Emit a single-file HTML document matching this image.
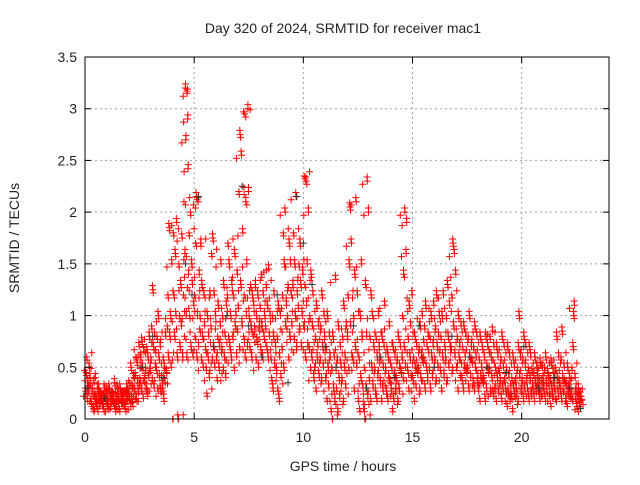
<!DOCTYPE html>
<html><head><meta charset="utf-8"><style>
body{margin:0;background:#fff}
svg text{font-family:"Liberation Sans",sans-serif;font-size:14px;fill:#222}
</style></head><body>
<svg id="c" width="640" height="480">
<rect width="640" height="480" fill="#fff"/>
<g id="grid"></g><g id="pts"></g><g id="axes"></g>
</svg>
<script>
const xTicks=[0,5,10,15,20];
const yTicks=[0,0.5,1,1.5,2,2.5,3,3.5];
const yTickLabels=["0","0.5","1","1.5","2","2.5","3","3.5"];
const binHours=0.25;
const redBins=[
[0.3,0.45,0.6,0.2,0.35,0.25,0.5,0.4],[0.2,0.15,0.3,0.25,0.1,0.35,0.2,0.4],[0.15,0.2,0.1,0.25,0.3,0.12,0.18,0.22],[0.2,0.15,0.25,0.1,0.3,0.18,0.2,0.28],
[0.15,0.2,0.12,0.3,0.25,0.1,0.18,0.22],[0.2,0.25,0.15,0.35,0.1,0.22,0.18,0.3],[0.18,0.22,0.1,0.3,0.25,0.15,0.2,0.12],[0.2,0.15,0.28,0.1,0.22,0.3,0.18,0.25],
[0.25,0.35,0.15,0.5,0.2,0.3,0.12,0.4],[0.3,0.45,0.6,0.2,0.55,0.35,0.25,0.7],[0.4,0.6,0.3,0.75,0.5,0.2,0.65,0.35],[0.5,0.3,0.7,0.25,0.6,0.4,0.8,0.45],
[0.6,0.9,0.4,1.25,0.7,0.3,0.8,0.5],[0.5,0.8,0.3,1.0,0.6,0.4,0.7,0.25],[0.4,0.3,0.6,0.2,0.5,0.35,0.8,0.45],[0.9,1.2,0.6,1.85,0.8,1.0,0.5,1.5],
[0,1.8,1.2,0.8,1.6,1.0,1.9,0.6],[0,1.5,1.0,0.7,1.3,0.9,1.75,0.6],[1.2,2.1,0.8,1.6,3.2,2.7,1.0,0.6,3.15,2.9,2.42,1.4],[1.8,1.0,2.0,0.7,1.5,1.3,0.6,1.1],
[1.2,0.8,1.7,2.15,0.6,1.0,2.1,0.7,1.4],[1.0,1.7,0.6,1.3,0.8,0.5,1.2,0.9],[0.7,0.5,0.25,1.0,0.6,0.8,0.4,1.2],[0.9,1.6,0.6,1.75,0.7,1.2,0.5,1.0],
[0.6,0.4,0.8,1.1,0.5,0.7,0.9,1.5],[0.7,1.0,0.5,1.3,0.6,0.8,0.4,1.1],[1.2,1.7,0.8,1.5,0.7,1.0,0.6,1.3],[0.8,1.2,0.5,1.6,0.9,1.0,0.6,1.4],
[1.1,2.2,0.7,2.75,1.3,2.55,0.9,1.8],[0.8,1.2,2.95,0.6,2.1,1.0,1.5,0.7,3.0,2.2],[1.0,0.7,1.3,0.9,0.6,1.2,0.8,1.1],[0.9,1.3,0.6,1.0,0.75,1.2,0.5,0.85],
[1.1,0.7,1.4,0.9,0.6,1.2,0.8,1.0],[0.9,1.3,0.7,1.1,0.6,1.45,0.8,1.0],[0.6,0.4,1.0,0.3,0.8,1.2,0.5,0.7],[0.5,0.8,0.3,1.1,0.2,0.6,1.0,0.4],
[0.7,1.2,1.8,0.5,1.5,2.0,0.9,1.1],[1.0,1.3,0.6,1.7,0.8,1.5,1.2,0.9],[1.3,1.8,0.8,1.5,1.0,2.15,0.7,1.2],[1.1,1.5,0.9,1.7,1.3,0.7,1.0,1.4],
[0.9,2.35,1.3,0.6,2.3,1.1,1.5,0.7,2.0],[0.7,1.0,0.5,1.4,0.6,0.9,1.2,0.4],[0.5,0.8,0.3,1.1,0.6,0.7,0.9,0.4],[0.6,0.9,0.4,1.2,0.7,0.5,1.0,0.8],
[0.4,0.7,0.2,1.0,0.5,0.3,0.8,0.6],[0.1,0.5,0.0,0.8,0.3,0.6,0.2,1.35],[0.3,0.6,0.1,0.9,0.4,0.2,0.7,0.5],[0.4,0.8,0.2,1.1,0.5,0.6,0.3,0.9],
[0.8,1.2,0.5,1.5,2.05,0.9,1.7,0.6],[0.6,1.0,0.3,1.4,0.7,2.1,0.5,1.2],[0.2,0.6,0.1,1.0,0.4,1.5,0.8,0.3],[0.1,0.5,0.0,1.3,0.3,0.8,2.3,0.2,2.0],
[0.4,0.8,0.2,1.2,0.5,1.0,0.3,0.7],[0.5,0.3,0.8,0.2,0.6,0.4,1.0,0.7],[0.4,0.6,0.2,0.8,0.3,0.5,0.7,1.1],[0.5,0.3,0.7,0.2,0.6,0.4,0.9,0.35],
[0.3,0.5,0.1,0.7,0.2,0.4,0.6,0.25],[0.4,0.6,0.2,0.8,0.3,0.5,0.7,0.45],[0.6,1.0,0.4,1.4,0.7,2.0,0.5,1.6,1.9],[0.5,0.8,0.3,1.1,0.6,0.9,0.4,1.2],
[0.4,0.6,0.2,0.8,0.5,0.3,0.7,0.45],[0.5,0.7,0.3,0.9,0.4,0.6,1.0,0.55],[0.6,0.9,0.3,1.1,0.5,0.7,0.4,0.8],[0.5,0.8,0.3,1.0,0.6,0.4,0.7,1.1],
[0.6,0.9,0.4,1.2,0.7,0.5,0.8,1.0],[0.5,0.8,0.3,1.0,0.6,1.2,0.4,0.7],[0.6,1.0,0.4,1.3,0.8,0.5,1.1,0.7],[0.7,1.2,0.5,1.7,0.9,1.6,0.6,1.4],
[0.5,0.8,0.3,1.0,0.6,0.7,0.4,0.9],[0.4,0.7,0.3,0.9,0.5,0.6,0.8,0.45],[0.5,0.8,0.3,1.0,0.6,0.4,0.7,0.55],[0.4,0.7,0.3,0.9,0.5,0.6,0.8,0.35],
[0.3,0.6,0.2,0.8,0.4,0.5,0.7,0.35],[0.4,0.6,0.2,0.8,0.3,0.5,0.7,0.45],[0.5,0.8,0.3,0.6,0.4,0.85,0.25,0.7],[0.3,0.5,0.2,0.7,0.4,0.6,0.25,0.45],
[0.4,0.6,0.2,0.8,0.3,0.5,0.7,0.35],[0.3,0.5,0.15,0.7,0.25,0.4,0.6,0.2],[0.25,0.4,0.1,0.6,0.3,0.5,0.2,0.35],[0.3,0.5,0.2,0.7,1.0,0.4,0.6,0.25],
[0.4,0.6,0.2,0.8,0.3,0.5,0.7,0.35],[0.3,0.5,0.2,0.7,0.4,0.6,0.25,0.45],[0.3,0.45,0.2,0.6,0.35,0.25,0.5,0.4],[0.3,0.4,0.2,0.55,0.25,0.35,0.5,0.3],
[0.3,0.5,0.2,0.6,0.35,0.25,0.45,0.4],[0.25,0.4,0.15,0.55,0.3,0.2,0.45,0.35],[0.3,0.5,0.2,0.8,0.4,0.25,0.6,0.35],[0.3,0.6,0.2,0.85,0.4,0.25,0.5,0.35],
[0.2,0.35,0.15,0.5,0.25,0.3,0.4,0.2],[0.3,0.5,0.2,0.7,1.0,1.1,0.4,0.25],[0.15,0.25,0.1,0.3,0.2,0.12,0.22,0.18]
];
const blackTimes=[0.1,0.9,2.6,3.1,3.6,4.6,4.9,5.2,5.9,6.5,7.2,7.5,8.1,8.8,9.3,9.7,10.0,10.4,11.0,11.5,12.3,12.9,13.5,14.2,15.3,16.0,16.8,17.6,18.4,19.3,20.1,20.8,21.5,22.2,22.7];
const blackValues=[0.3,0.2,0.5,0.8,0.4,1.5,1.2,2.15,0.7,1.0,2.25,0.9,0.6,1.2,0.35,2.15,1.7,1.3,0.7,0.5,0.9,0.3,0.6,0.4,0.9,0.5,0.8,0.6,0.5,0.45,0.7,0.3,0.4,0.3,0.1];

const L=85,R=609,T=57,B=419,X0=0,X1=24,Y0=0,Y1=3.5;
const xs=v=>L+(v-X0)/(X1-X0)*(R-L);
const ys=v=>B-(v-Y0)/(Y1-Y0)*(B-T);
const NS="http://www.w3.org/2000/svg";
function mk(tag,at,parent){const e=document.createElementNS(NS,tag);for(const k in at)e.setAttribute(k,at[k]);parent.appendChild(e);return e;}
const grid=document.getElementById('grid'),pts=document.getElementById('pts'),axes=document.getElementById('axes');
xTicks.forEach((t,i)=>{
 if(t>X0){const g=mk('line',{x1:xs(t),x2:xs(t),y1:T,y2:B,stroke:'#a0a0a0','stroke-dasharray':'2,3'},grid);
 
 }
 mk('line',{x1:xs(t),x2:xs(t),y1:B,y2:B-6,stroke:'#000'},axes);
 mk('line',{x1:xs(t),x2:xs(t),y1:T,y2:T+6,stroke:'#000'},axes);
 const tx=mk('text',{x:xs(t),y:B+23,'text-anchor':'middle'},axes);tx.textContent=String(t);
 
 
});
yTicks.forEach((t,i)=>{
 if(t>Y0&&t<Y1){const g=mk('line',{x1:L,x2:R,y1:ys(t),y2:ys(t),stroke:'#a0a0a0','stroke-dasharray':'2,3'},grid);
 
 }
 mk('line',{x1:L,x2:L+6,y1:ys(t),y2:ys(t),stroke:'#000'},axes);
 mk('line',{x1:R,x2:R-6,y1:ys(t),y2:ys(t),stroke:'#000'},axes);
 const tx=mk('text',{x:L-8,y:ys(t)+5,'text-anchor':'end'},axes);tx.textContent=yTickLabels[i];
 
 
});
function cross(x,y,col){
 const p=mk('path',{d:`M${x-3.5},${y}h7M${x},${y-3.5}v7`,stroke:col,'stroke-width':1,fill:'none'},pts);
 
 
}
redBins.forEach((vals,i)=>{
 const n=vals.length;
 vals.forEach((v,k)=>{
  const t=i*binHours+(k+0.5)/n*binHours;
  cross(xs(t),ys(v),'#ff0000');
  cross(xs(t+binHours*0.3),ys(Math.max(0,vals[(k+3)%n]+0.04)),'#ff0000');
  cross(xs(t-binHours*0.3),ys(Math.max(0,vals[(k+5)%n]-0.03)),'#ff0000');
 });
});
blackTimes.forEach((t,i)=>cross(xs(t),ys(blackValues[i]),'#333'));
const fr=mk('rect',{x:L,y:T,width:R-L,height:B-T,fill:'none',stroke:'#000'},axes);


let t1=mk('text',{x:343,y:33,'text-anchor':'middle'},axes);t1.textContent='Day 320 of 2024, SRMTID for receiver mac1';


let t2=mk('text',{x:343,y:471,'text-anchor':'middle'},axes);t2.textContent='GPS time / hours';


let t3=mk('text',{x:19,y:238,'text-anchor':'middle',transform:'rotate(-90 19 238)'},axes);t3.textContent='SRMTID / TECUs';


</script>
</body></html>
